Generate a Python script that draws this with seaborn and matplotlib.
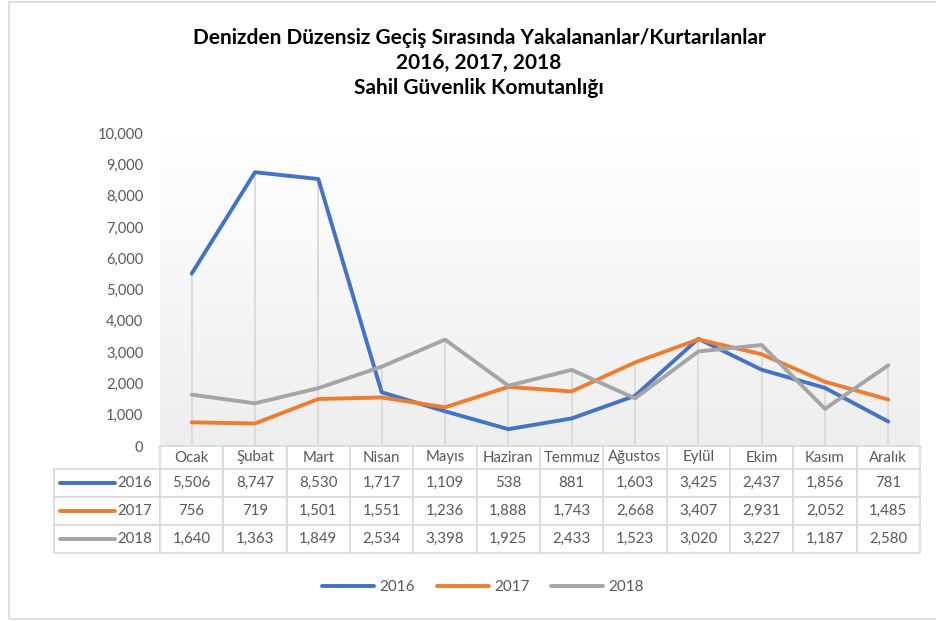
import numpy as np
import pandas as pd
import matplotlib
matplotlib.use('Agg')
import matplotlib.pyplot as plt
import seaborn as sns
from matplotlib.lines import Line2D
from matplotlib.patches import Rectangle
from matplotlib.colors import LinearSegmentedColormap
from matplotlib.ticker import MultipleLocator, FuncFormatter

# veriler
aylar = ['Ocak', 'Şubat', 'Mart', 'Nisan', 'Mayıs', 'Haziran', 'Temmuz',
         'Ağustos', 'Eylül', 'Ekim', 'Kasım', 'Aralık']
yillar = ['2016', '2017', '2018']
v2016 = [5506, 8747, 8530, 1717, 1109, 538, 881, 1603, 3425, 2437, 1856, 781]
v2017 = [756, 719, 1501, 1551, 1236, 1888, 1743, 2668, 3407, 2931, 2052, 1485]
v2018 = [1640, 1363, 1849, 2534, 3398, 1925, 2433, 1523, 3020, 3227, 1187, 2580]
renkler = ['#4472C4', '#ED7D31', '#A5A5A5']

sns.set_style('white')
plt.rcParams['font.family'] = ['Lato', 'DejaVu Sans']

seriler = [v2016, v2017, v2018]
df = pd.DataFrame({'ay': aylar * 3,
                   'yil': np.repeat(yillar, len(aylar)),
                   'deger': v2016 + v2017 + v2018})

fig = plt.figure(figsize=(9.36, 6.21), dpi=100)
ax = fig.add_axes([160 / 936, 1 - 446 / 621, 760 / 936, 313 / 621])

# plot alani gradyan arka plan
grad = LinearSegmentedColormap.from_list('g', ['#ffffff', '#eeeeee'])
ax.imshow(np.linspace(0, 1, 256).reshape(-1, 1), cmap=grad, extent=[0, 1, 0, 1],
          transform=ax.transAxes, aspect='auto', zorder=0)

# dusey cizgiler (en yuksek noktaya kadar)
ax.vlines(np.arange(len(aylar)), 0, np.max(seriler, axis=0), color='#d9d9d9', lw=1.3, zorder=1)

sns.lineplot(data=df, x='ay', y='deger', hue='yil', palette=renkler, lw=2.8,
             ax=ax, legend=False, sort=False, zorder=3)

ax.set_xlim(-0.5, len(aylar) - 0.5)
ax.set_ylim(0, 10000)
ax.yaxis.set_major_locator(MultipleLocator(1000))
ax.yaxis.set_major_formatter(FuncFormatter(lambda x, p: f'{x:,.0f}'))
ax.tick_params(axis='y', length=0, pad=12, labelsize=10.5, labelcolor='#595959')
ax.set_xticks(np.arange(len(aylar) + 1) - 0.5)
ax.set_xticklabels([])
ax.tick_params(axis='x', direction='in', length=6, color='#d9d9d9', width=1)
ax.set_xlabel('')
ax.set_ylabel('')
for s in ax.spines.values():
    s.set_visible(False)

# veri tablosu
hucre = [[''] + aylar] + [[y] + [f'{v:,}' for v in vals] for y, vals in zip(yillar, seriler)]
tab = ax.table(cellText=hucre, cellLoc='center',
               bbox=[-106 / 760, -107 / 313, 866 / 760, 107 / 313])
tab.auto_set_font_size(False)
tab.set_fontsize(10.8)
for (r, c), cell in tab.get_celld().items():
    cell.set_edgecolor('#d9d9d9')
    cell.set_linewidth(1.2)
    cell.set_facecolor('white')
    cell.get_text().set_color('#595959')
    cell.set_height(23 if r == 0 else 28)
    cell.set_width(106 if c == 0 else 760 / 12)
    if c == 0:
        cell._loc = 'right'
        cell.get_text().set_ha('right')
        cell.PAD = 0.07
    if r == 0 and c == 0:
        cell.visible_edges = 'open'

# tablodaki seri isaretleri
for i, renk in enumerate(renkler):
    yy = -(23 + 14 + 28 * i) / 313
    ax.plot([-100 / 760, -45 / 760], [yy, yy], color=renk, lw=2.8, solid_capstyle='round',
            transform=ax.transAxes, clip_on=False, zorder=5)

fig.text(479 / 936, 1 - 63 / 621,
         'Denizden Düzensiz Geçiş Sırasında Yakalananlar/Kurtarılanlar\n2016, 2017, 2018\nSahil Güvenlik Komutanlığı',
         ha='center', va='center', fontsize=15, fontweight='bold', linespacing=1.33, color='black')

handles = [Line2D([0], [0], color=r, lw=2.8, solid_capstyle='round') for r in renkler]
fig.legend(handles, yillar, loc='center', bbox_to_anchor=(483 / 936, 1 - 587 / 621), ncol=3,
           frameon=False, handlelength=3.4, fontsize=11, labelcolor='#595959',
           columnspacing=1.4, handletextpad=0.35)

fig.add_artist(Rectangle((9 / 936, 2 / 621), 1.0, 1 - 4 / 621, transform=fig.transFigure,
                         fill=False, edgecolor='#d9d9d9', lw=1.2))

fig.savefig('out.png', dpi=100)
